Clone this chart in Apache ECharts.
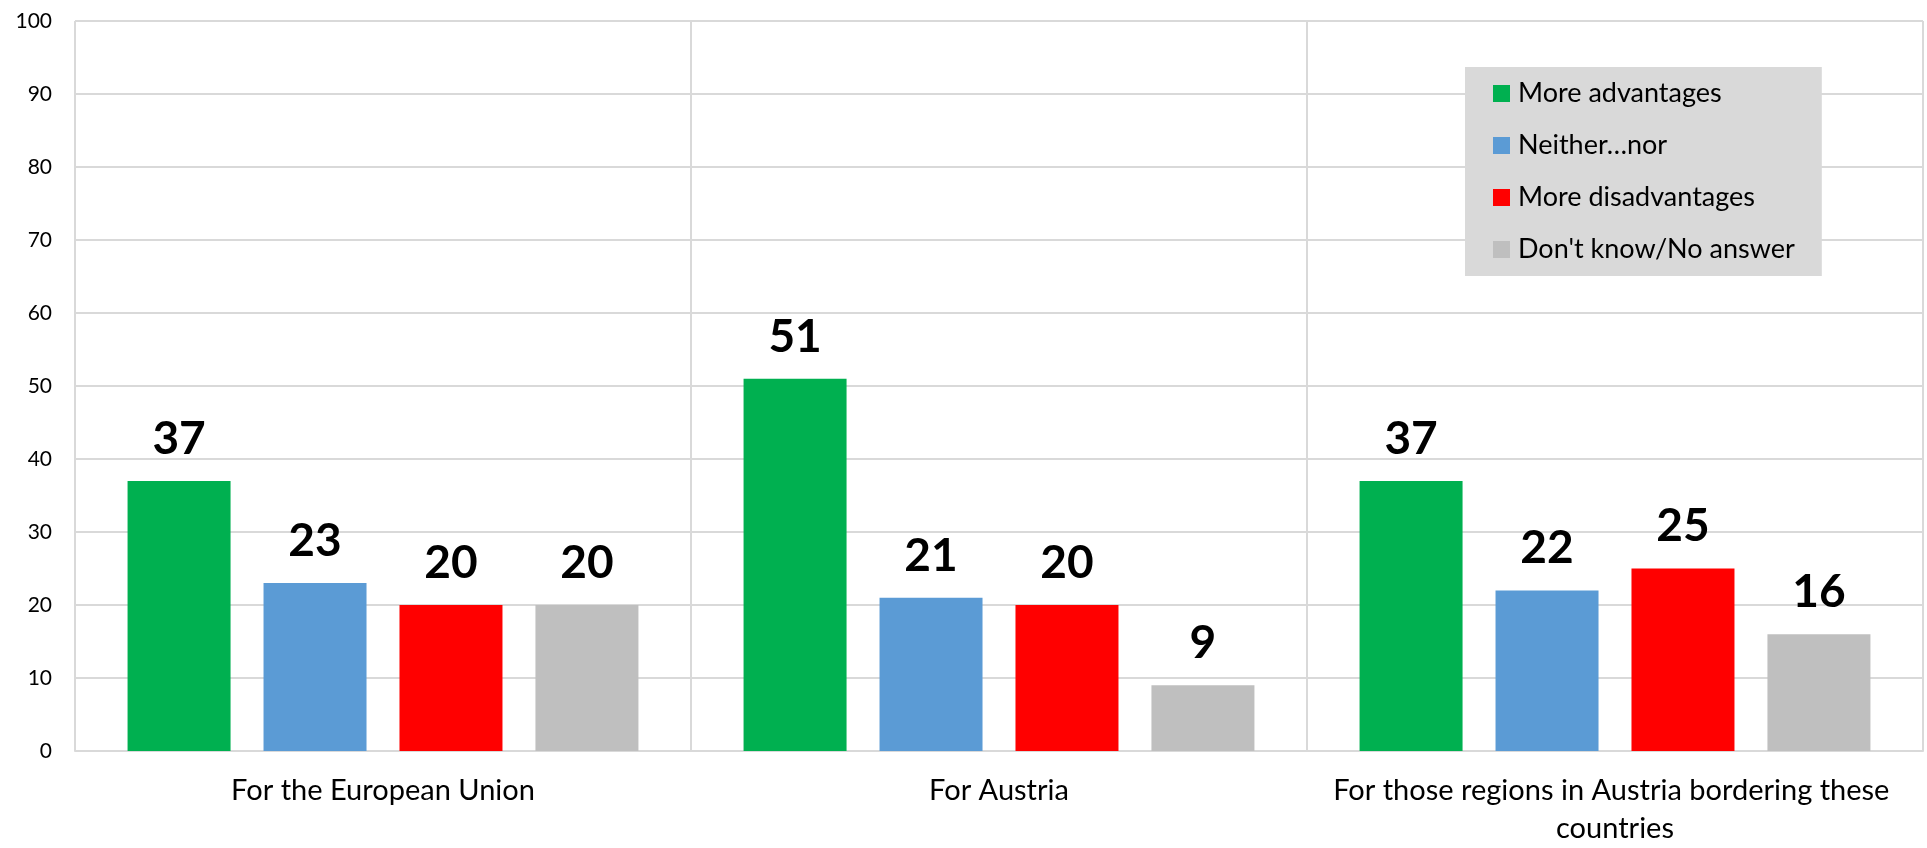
<!DOCTYPE html>
<html>
<head>
<meta charset="utf-8">
<script src="https://cdn.jsdelivr.net/npm/echarts@6/dist/echarts.min.js"></script>
<style>
html,body{margin:0;padding:0;background:#fff;}
#chart{width:1927px;height:848px;}
</style>
</head>
<body>
<div id="chart"></div>
<script>
const categories = ["For the European Union", "For Austria", "For those regions in Austria bordering these countries"];
const seriesNames = ["More advantages", "Neither\u2026nor", "More disadvantages", "Don't know/No answer"];
const moreAdvantages = [37, 51, 37];
const neitherNor = [23, 21, 22];
const moreDisadvantages = [20, 20, 25];
const dontKnow = [20, 9, 16];
const yTicks = [0, 10, 20, 30, 40, 50, 60, 70, 80, 90, 100];

const colors = ["#00B050", "#5B9BD5", "#FF0000", "#BFBFBF"];
const values = [moreAdvantages, neitherNor, moreDisadvantages, dontKnow];
const FONT = "Lato";
const gridColor = "#D9D9D9";

const chart = echarts.init(document.getElementById('chart'), null, {renderer: 'canvas'});
const series = seriesNames.map((name, i) => ({
  name: name,
  type: 'bar',
  data: values[i],
  barWidth: 103,
  barGap: '32%',
  itemStyle: {color: colors[i]},
  label: {
    show: true,
    position: 'top',
    distance: 19,
    color: '#000',
    fontFamily: FONT,
    fontWeight: 'bold',
    fontSize: 46
  }
}));

chart.setOption({
  animation: false,
  backgroundColor: '#fff',
  grid: {left: 75, right: 4, top: 21, bottom: 95, containLabel: false},
  legend: {
    orient: 'vertical',
    left: 1465,
    top: 67,
    backgroundColor: '#D9D9D9',
    padding: [13, 27, 13, 28],
    itemWidth: 17,
    itemHeight: 17,
    itemGap: 25,
    icon: 'rect',
    data: seriesNames,
    textStyle: {fontFamily: FONT, fontSize: 27, color: '#000', lineHeight: 26, padding: [0, 0, 0, 3]}
  },
  xAxis: {
    type: 'category',
    data: categories,
    axisLine: {show: true, lineStyle: {color: gridColor, width: 2}},
    axisTick: {show: false},
    splitLine: {show: true, lineStyle: {color: gridColor, width: 2}},
    axisLabel: {
      fontFamily: FONT, fontSize: 29, color: '#000', margin: 21, lineHeight: 38,
      width: 600, overflow: 'break', interval: 0
    }
  },
  yAxis: {
    type: 'value',
    min: yTicks[0],
    max: yTicks[yTicks.length - 1],
    interval: yTicks[1] - yTicks[0],
    axisLine: {show: false},
    axisTick: {show: false},
    splitLine: {show: true, lineStyle: {color: gridColor, width: 2}},
    axisLabel: {fontFamily: FONT, fontSize: 21, color: '#000', margin: 23}
  },
  series: series
});
</script>
</body>
</html>
